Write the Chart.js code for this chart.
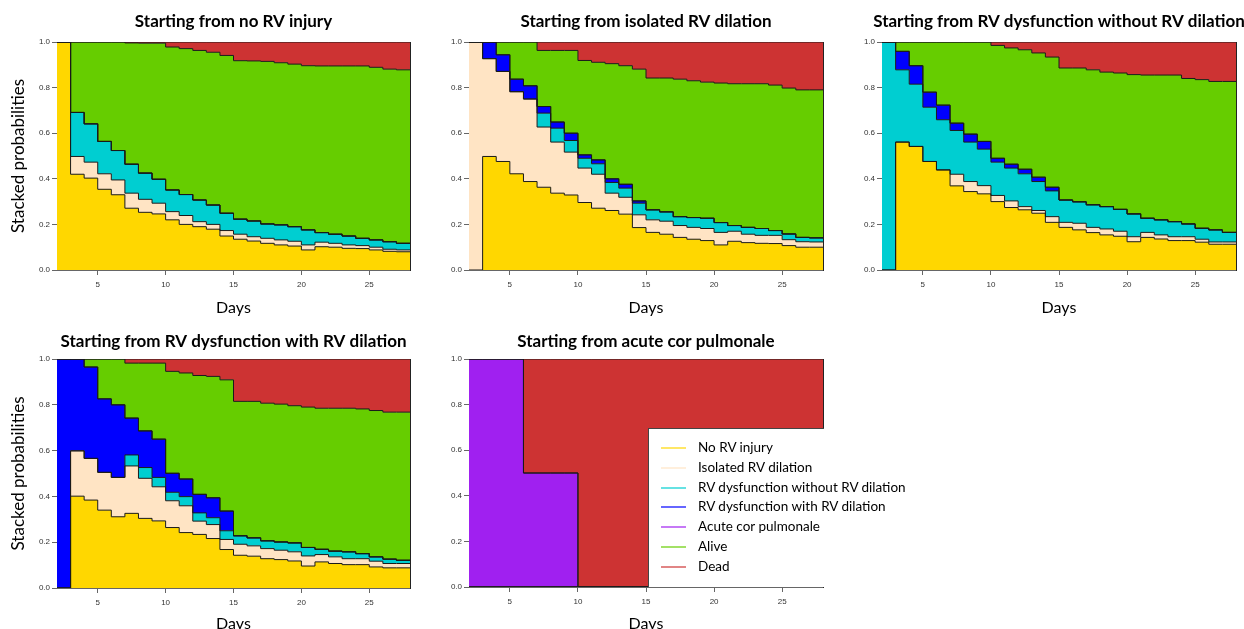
<!DOCTYPE html>
<html>
<head>
<meta charset="utf-8">
<script src="https://cdn.jsdelivr.net/npm/chart.js@4.4.0/dist/chart.umd.min.js"></script>
<style>
  body { margin: 0; width: 1244px; height: 629px; overflow: hidden; background: #fff; position: relative; font-family: Lato, sans-serif; }
  canvas { position: absolute; }
  #legend { position: absolute; left: 648px; top: 428px; width: 176px; height: 159px; background: #fff;
            border-left: 1px solid #444; border-top: 1px solid #444; box-sizing: border-box; padding-top: 9px; }
  #legend::after { content: ""; position: absolute; left: 175px; top: 0; width: 100px; height: 158px; background: #fff; z-index: -1; }
  .row { height: 19.8px; line-height: 19.8px; font-size: 13.5px; position: relative; padding-left: 49px; white-space: nowrap; color: #000; }
  .row i { position: absolute; left: 12px; top: 9px; width: 25px; height: 2px; }
</style>
</head>
<body>
<canvas id="p1" width="420" height="320" style="left:0;top:0"></canvas>
<canvas id="p2" width="420" height="320" style="left:420px;top:0"></canvas>
<canvas id="p3" width="409" height="320" style="left:835px;top:0"></canvas>
<canvas id="p4" width="420" height="320" style="left:0;top:320px"></canvas>
<canvas id="p5" width="420" height="320" style="left:420px;top:320px"></canvas>
<div id="legend"></div>

<script>
// Days 2..28 (the value of a day holds until the next day)
const days = [2, 3, 4, 5, 6, 7, 8, 9, 10, 11, 12, 13, 14, 15, 16, 17, 18, 19, 20, 21, 22, 23, 24, 25, 26, 27, 28];
const xTickValues = [5, 10, 15, 20, 25];
const yTickValues = [0, 0.2, 0.4, 0.6, 0.8, 1.0];

const stateNames = [
  "No RV injury",
  "Isolated RV dilation",
  "RV dysfunction without RV dilation",
  "RV dysfunction with RV dilation",
  "Acute cor pulmonale",
  "Alive",
  "Dead",
];
const stateColors = ["#FFD700", "#FFE4C4", "#00CED1", "#0000FF", "#A020F0", "#66CD00", "#CD3333"];

// stacked tops (cumulative probabilities)
const totalTop = [1, 1, 1, 1, 1, 1, 1, 1, 1, 1, 1, 1, 1, 1, 1, 1, 1, 1, 1, 1, 1, 1, 1, 1, 1, 1, 1];

// Starting from no RV injury
const noInjury1 = [1.0, 0.42, 0.403, 0.354, 0.33, 0.271, 0.253, 0.246, 0.22, 0.2, 0.19, 0.179, 0.149, 0.135, 0.127, 0.117, 0.11, 0.105, 0.088, 0.102, 0.1, 0.095, 0.094, 0.088, 0.082, 0.08, 0.08];
const dilation1 = [1.0, 0.498, 0.473, 0.422, 0.395, 0.337, 0.31, 0.293, 0.256, 0.239, 0.212, 0.2, 0.173, 0.157, 0.146, 0.139, 0.132, 0.126, 0.11, 0.122, 0.117, 0.11, 0.107, 0.1, 0.091, 0.088, 0.088];
const dysNoDil1 = [1.0, 0.691, 0.641, 0.564, 0.524, 0.464, 0.425, 0.398, 0.351, 0.331, 0.307, 0.285, 0.249, 0.223, 0.215, 0.202, 0.198, 0.19, 0.176, 0.164, 0.157, 0.149, 0.139, 0.132, 0.124, 0.117, 0.117];
const dysDil1 = dysNoDil1;
const acp1 = dysDil1;
const alive1 = [1.0, 1.0, 1.0, 1.0, 1.0, 0.996, 0.995, 0.995, 0.978, 0.971, 0.963, 0.955, 0.941, 0.918, 0.917, 0.915, 0.909, 0.903, 0.896, 0.895, 0.895, 0.895, 0.895, 0.889, 0.881, 0.878, 0.878];

// Starting from isolated RV dilation
const noInjury2 = [0, 0.498, 0.476, 0.422, 0.388, 0.363, 0.337, 0.329, 0.296, 0.271, 0.261, 0.245, 0.186, 0.165, 0.157, 0.143, 0.135, 0.129, 0.11, 0.126, 0.12, 0.117, 0.116, 0.107, 0.1, 0.1, 0.1];
const dilation2 = [1.0, 0.927, 0.871, 0.782, 0.75, 0.627, 0.561, 0.517, 0.447, 0.42, 0.337, 0.319, 0.242, 0.22, 0.214, 0.195, 0.187, 0.182, 0.165, 0.17, 0.157, 0.152, 0.152, 0.133, 0.124, 0.123, 0.123];
const dysNoDil2 = [1.0, 0.927, 0.871, 0.782, 0.75, 0.688, 0.622, 0.568, 0.49, 0.466, 0.384, 0.359, 0.293, 0.264, 0.255, 0.234, 0.23, 0.227, 0.208, 0.195, 0.187, 0.182, 0.173, 0.158, 0.143, 0.141, 0.141];
const dysDil2 = [1.0, 1.0, 0.944, 0.837, 0.808, 0.717, 0.649, 0.6, 0.505, 0.483, 0.4, 0.376, 0.303, 0.264, 0.255, 0.234, 0.23, 0.227, 0.208, 0.195, 0.187, 0.182, 0.173, 0.158, 0.143, 0.141, 0.141];
const acp2 = dysDil2;
const alive2 = [1.0, 1.0, 1.0, 1.0, 1.0, 0.963, 0.963, 0.963, 0.919, 0.911, 0.905, 0.896, 0.881, 0.842, 0.842, 0.837, 0.83, 0.824, 0.82, 0.817, 0.817, 0.817, 0.811, 0.798, 0.79, 0.79, 0.79];

// Starting from RV dysfunction without RV dilation
const noInjury3 = [0, 0.561, 0.542, 0.476, 0.439, 0.369, 0.344, 0.334, 0.3, 0.274, 0.264, 0.249, 0.209, 0.187, 0.176, 0.164, 0.154, 0.148, 0.124, 0.143, 0.136, 0.129, 0.129, 0.122, 0.113, 0.113, 0.113];
const dilation3 = [0, 0.561, 0.542, 0.476, 0.439, 0.42, 0.388, 0.37, 0.327, 0.303, 0.278, 0.261, 0.234, 0.209, 0.205, 0.187, 0.18, 0.17, 0.146, 0.165, 0.154, 0.146, 0.146, 0.135, 0.123, 0.123, 0.123];
const dysNoDil3 = [1.0, 0.878, 0.815, 0.714, 0.659, 0.612, 0.561, 0.53, 0.473, 0.447, 0.422, 0.388, 0.347, 0.307, 0.299, 0.286, 0.278, 0.266, 0.246, 0.227, 0.22, 0.212, 0.202, 0.183, 0.176, 0.165, 0.165];
const dysDil3 = [1.0, 0.959, 0.896, 0.78, 0.723, 0.644, 0.596, 0.564, 0.49, 0.464, 0.442, 0.407, 0.363, 0.307, 0.299, 0.286, 0.278, 0.266, 0.246, 0.227, 0.22, 0.212, 0.202, 0.183, 0.176, 0.165, 0.165];
const acp3 = dysDil3;
const alive3 = [1.0, 1.0, 1.0, 1.0, 1.0, 1.0, 1.0, 1.0, 0.985, 0.974, 0.966, 0.952, 0.934, 0.886, 0.886, 0.878, 0.868, 0.864, 0.857, 0.855, 0.855, 0.855, 0.84, 0.835, 0.827, 0.827, 0.827];

// Starting from RV dysfunction with RV dilation
const noInjury4 = [0, 0.401, 0.384, 0.34, 0.311, 0.326, 0.304, 0.293, 0.264, 0.242, 0.234, 0.216, 0.168, 0.143, 0.139, 0.128, 0.124, 0.118, 0.096, 0.114, 0.107, 0.102, 0.102, 0.092, 0.088, 0.088, 0.088];
const dilation4 = [0, 0.599, 0.566, 0.505, 0.483, 0.533, 0.479, 0.442, 0.381, 0.359, 0.292, 0.277, 0.212, 0.191, 0.184, 0.172, 0.165, 0.158, 0.14, 0.146, 0.136, 0.128, 0.128, 0.117, 0.107, 0.107, 0.107];
const dysNoDil4 = [0, 0.599, 0.566, 0.505, 0.483, 0.581, 0.526, 0.483, 0.418, 0.399, 0.328, 0.307, 0.25, 0.228, 0.219, 0.206, 0.201, 0.197, 0.177, 0.169, 0.161, 0.158, 0.15, 0.136, 0.126, 0.121, 0.121];
const dysDil4 = [1.0, 1.0, 0.965, 0.826, 0.8, 0.742, 0.686, 0.65, 0.501, 0.476, 0.409, 0.394, 0.336, 0.228, 0.219, 0.206, 0.201, 0.197, 0.177, 0.169, 0.161, 0.158, 0.15, 0.136, 0.126, 0.121, 0.121];
const acp4 = dysDil4;
const alive4 = [1.0, 1.0, 1.0, 1.0, 1.0, 0.982, 0.982, 0.982, 0.946, 0.939, 0.928, 0.924, 0.909, 0.815, 0.815, 0.807, 0.803, 0.796, 0.79, 0.785, 0.785, 0.785, 0.782, 0.775, 0.768, 0.768, 0.768];

// Starting from acute cor pulmonale
const zero5 = [0, 0, 0, 0, 0, 0, 0, 0, 0, 0, 0, 0, 0, 0, 0, 0, 0, 0, 0, 0, 0, 0, 0, 0, 0, 0, 0];
const acp5 = [1, 1, 1, 1, 0.5, 0.5, 0.5, 0.5, 0, 0, 0, 0, 0, 0, 0, 0, 0, 0, 0, 0, 0, 0, 0, 0, 0, 0, 0];
const alive5 = acp5;

const tickFont = { family: "Liberation Sans", size: 8 };
const daysFont = { family: "Lato", size: 16 };
const probFont = { family: "Lato", size: 17 };

const panelTitle = {
  id: "panelTitle",
  afterDraw(chart, args, opts) {
    const { ctx, chartArea } = chart;
    ctx.save();
    ctx.font = "bold 17px Lato";
    ctx.fillStyle = "#000";
    ctx.textAlign = "center";
    ctx.textBaseline = "middle";
    ctx.fillText(opts.text, (chartArea.left + chartArea.right) / 2, opts.y);
    ctx.restore();
  },
};

function drawPanel(id, title, tops, box) {
  new Chart(document.getElementById(id), {
    type: "line",
    data: {
      datasets: tops.map((top, i) => ({
        label: stateNames[i],
        data: top.map((v, j) => ({ x: days[j], y: v })),
        backgroundColor: stateColors[i],
        borderColor: "#1a1a1a",
        borderWidth: 1,
        fill: i === 0 ? "origin" : "-1",
        stepped: true,
        pointRadius: 0,
      })),
    },
    options: {
      responsive: false,
      animation: false,
      events: [],
      layout: { padding: { top: box.top, right: box.right, left: 0, bottom: 0 } },
      plugins: {
        legend: { display: false },
        tooltip: { enabled: false },
        filler: { drawTime: "beforeDatasetsDraw" },
        panelTitle: { text: title, y: 22 },
      },
      scales: {
        x: {
          type: "linear",
          min: 2,
          max: 28,
          afterBuildTicks: (s) => { s.ticks = xTickValues.map((v) => ({ value: v })); },
          afterFit: (s) => { s.height = box.xh; },
          ticks: { font: tickFont, color: "#333", padding: 5, maxRotation: 0 },
          grid: { drawOnChartArea: false, drawTicks: true, tickLength: 5, color: "#666" },
          border: { display: true, color: "#666", width: 1 },
          title: { display: true, text: "Days", font: daysFont, color: "#000", padding: { top: 0, bottom: box.db } },
        },
        y: {
          min: 0,
          max: 1,
          afterBuildTicks: (s) => { s.ticks = yTickValues.map((v) => ({ value: v })); },
          afterFit: (s) => { s.width = box.yw; },
          ticks: { font: tickFont, color: "#333", padding: 2, callback: (v) => v.toFixed(1) },
          grid: { drawOnChartArea: false, drawTicks: true, tickLength: 5, color: "#666" },
          border: { display: true, color: "#666", width: 1 },
          title: { display: box.ytitle, text: "Stacked probabilities", font: probFont, color: "#000", padding: { top: 8, bottom: 0 } },
        },
        yr: {
          position: "right",
          ticks: { display: false },
          grid: { drawOnChartArea: false, drawTicks: false },
          border: { display: true, color: "#222", width: 1 },
          afterFit: (s) => { s.width = 0; },
        },
      },
    },
    plugins: [panelTitle],
  });
}

drawPanel("p1", "Starting from no RV injury",
  [noInjury1, dilation1, dysNoDil1, dysDil1, acp1, alive1, totalTop],
  { top: 42, right: 10, xh: 50, yw: 57, db: 3, ytitle: true });
drawPanel("p2", "Starting from isolated RV dilation",
  [noInjury2, dilation2, dysNoDil2, dysDil2, acp2, alive2, totalTop],
  { top: 42, right: 17, xh: 50, yw: 49, db: 3, ytitle: false });
drawPanel("p3", "Starting from RV dysfunction without RV dilation",
  [noInjury3, dilation3, dysNoDil3, dysDil3, acp3, alive3, totalTop],
  { top: 42, right: 8, xh: 50, yw: 47, db: 3, ytitle: false });
drawPanel("p4", "Starting from RV dysfunction with RV dilation",
  [noInjury4, dilation4, dysNoDil4, dysDil4, acp4, alive4, totalTop],
  { top: 39, right: 10, xh: 52, yw: 57, db: 7, ytitle: true });
drawPanel("p5", "Starting from acute cor pulmonale",
  [zero5, zero5, zero5, zero5, acp5, alive5, totalTop],
  { top: 39, right: 17, xh: 53, yw: 49, db: 7, ytitle: false });

// Legend (lighter swatches, as in the original)
function fade(hex, a) {
  const n = parseInt(hex.slice(1), 16);
  return `rgba(${(n >> 16) & 255},${(n >> 8) & 255},${n & 255},${a})`;
}
document.getElementById("legend").innerHTML = stateNames
  .map((name, i) => `<div class="row"><i style="background:${fade(stateColors[i], 0.6)}"></i>${name}</div>`)
  .join("");
</script>
</body>
</html>
